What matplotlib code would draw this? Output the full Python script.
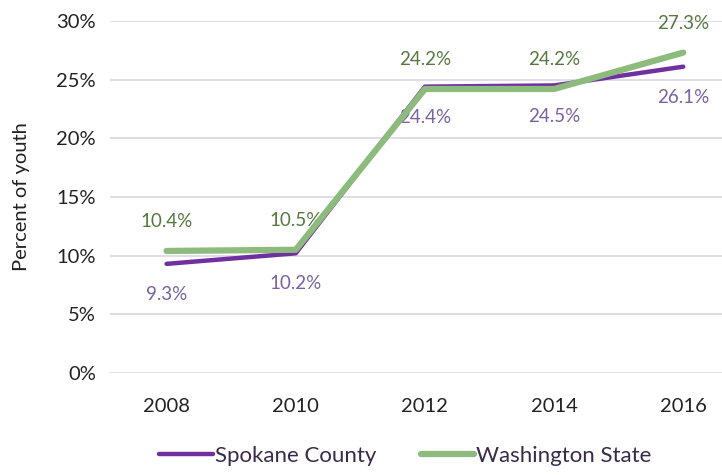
import matplotlib
matplotlib.use('Agg')
from matplotlib import pyplot as plt

years = ['2008', '2010', '2012', '2014', '2016']
spokane = [9.3, 10.2, 24.4, 24.5, 26.1]
washington = [10.4, 10.5, 24.2, 24.2, 27.3]
yticks = [0, 5, 10, 15, 20, 25, 30]

purple = '#7030A0'
green = '#8DBB7D'
purple_txt = '#7A62A0'
green_txt = '#55783F'

plt.rcParams['font.family'] = ['Lato', 'DejaVu Sans']

fig = plt.figure(figsize=(7.22, 4.75), dpi=100)
ax = fig.add_axes([0.152, 0.2147, 0.848, 0.7413])

x = list(range(len(years)))
ax.plot(x, spokane, color=purple, lw=3.2, solid_capstyle='round', label='Spokane County', zorder=3)
ax.plot(x, washington, color=green, lw=4.5, solid_capstyle='round', label='Washington State', zorder=4)

for xi, v in zip(x, washington):
    ax.annotate(f'{v:.1f}%', (xi, v), xytext=(0, 21), textcoords='offset points',
                ha='center', va='center', color=green_txt, fontsize=13.5)
for xi, v in zip(x, spokane):
    ax.annotate(f'{v:.1f}%', (xi, v), xytext=(0, -22), textcoords='offset points',
                ha='center', va='center', color=purple_txt, fontsize=13.5)

ax.set_ylim(0, 30)
ax.set_xlim(-0.44, 4.3)
ax.set_yticks(yticks)
ax.set_yticklabels([f'{t}%' for t in yticks])
ax.set_xticks(x)
ax.set_xticklabels(years)
ax.tick_params(length=0, labelsize=14.5, colors='#222222', pad=10)
ax.tick_params(axis='x', pad=18)
ax.grid(axis='y', color='#DDD6E6', lw=1.2)
ax.set_axisbelow(True)
for s in ax.spines.values():
    s.set_visible(False)
ax.set_ylabel('Percent of youth', fontsize=14.5, color='#222222', labelpad=19)

ax.legend(loc='center', bbox_to_anchor=(0.483, -0.235), ncol=2, frameon=False,
          fontsize=16, handlelength=2.4, handletextpad=0.1, columnspacing=2.0,
          labelcolor='#3A2A4A')

fig.savefig('out.png', dpi=100)
